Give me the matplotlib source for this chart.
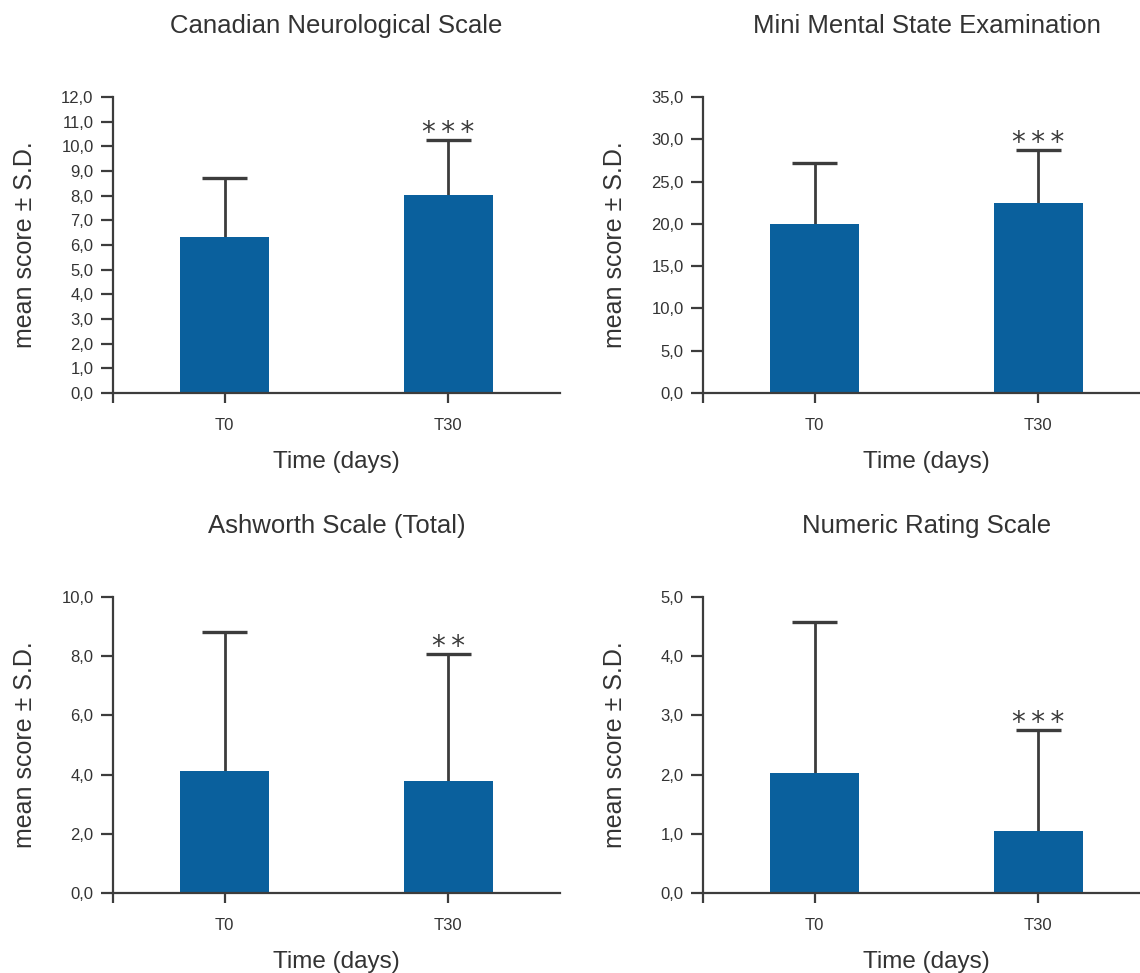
import matplotlib
matplotlib.use('Agg')
import matplotlib.pyplot as plt
from matplotlib.ticker import FuncFormatter, MultipleLocator

# data
groups = ['T0', 'T30']
titles = ['Canadian Neurological Scale', 'Mini Mental State Examination',
          'Ashworth Scale (Total)', 'Numeric Rating Scale']
cns_mean = [6.33, 8.01]
cns_sd = [2.37, 2.24]
mmse_mean = [19.98, 22.5]
mmse_sd = [7.18, 6.23]
ash_mean = [4.11, 3.80]
ash_sd = [4.71, 4.27]
nrs_mean = [2.03, 1.04]
nrs_sd = [2.54, 1.71]
stars = [['', '***'], ['', '***'], ['', '**'], ['', '***']]
ymax = [12, 35, 10, 5]
ystep = [1, 5, 2, 1]

means = [cns_mean, mmse_mean, ash_mean, nrs_mean]
sds = [cns_sd, mmse_sd, ash_sd, nrs_sd]

plt.rcParams['font.family'] = ['Liberation Sans', 'DejaVu Sans']
bar_col = '#0a609d'
ink = '#3c3c3c'
txt = '#333333'

fig = plt.figure(figsize=(11.4, 9.73), dpi=100)
W, H = 1140, 973
# left, top pixel of each panel
corners = [(113, 97), (703, 97), (113, 597), (703, 597)]
aw, ah = 447, 296

fmt = FuncFormatter(lambda v, p: f'{v:.1f}'.replace('.', ','))

for i in range(4):
    l, t = corners[i]
    ax = fig.add_axes([l / W, 1 - (t + ah) / H, aw / W, ah / H])
    x = list(range(len(groups)))
    ax.bar(x, means[i], width=0.4, color=bar_col, zorder=2)
    tops = [m + s for m, s in zip(means[i], sds[i])]
    # upper error bar only
    ax.vlines(x, means[i], tops, color=ink, lw=2, zorder=1)
    ax.hlines(tops, [j - 0.1 for j in x], [j + 0.1 for j in x],
              color=ink, lw=2.4, zorder=1)
    for j in x:
        if stars[i][j]:
            ax.annotate('\u2009'.join(stars[i][j]), (j, tops[j]),
                        xytext=(0, -5), textcoords='offset points',
                        ha='center', va='bottom', fontsize=20, color=ink,
                        family='DejaVu Sans')
    ax.set_xlim(-0.5, 1.5)
    ax.set_ylim(0, ymax[i])
    ax.yaxis.set_major_locator(MultipleLocator(ystep[i]))
    ax.yaxis.set_major_formatter(fmt)
    ax.set_xticks(x)
    ax.set_xticklabels(groups)
    ax.set_xticks([-0.5], minor=True)
    for s in ['top', 'right']:
        ax.spines[s].set_visible(False)
    for s in ['left', 'bottom']:
        ax.spines[s].set_color(ink)
        ax.spines[s].set_linewidth(1.6)
    ax.tick_params(axis='y', length=9, width=1.6, color=ink, labelcolor=txt,
                   labelsize=12, pad=5)
    ax.tick_params(axis='x', which='both', length=7, width=1.6, color=ink,
                   labelcolor=txt, labelsize=12, pad=11)
    for lab in ax.get_yticklabels():
        lab.set_family(['Liberation Sans Narrow', 'Liberation Sans'])
    ax.set_title(titles[i], fontsize=18.5, color=txt, pad=46)
    ax.set_xlabel('Time (days)', fontsize=17.5, color=txt)
    ax.xaxis.set_label_coords(0.5, -0.233)
    ax.xaxis.label.set_verticalalignment('center')
    ax.set_ylabel('mean score ± S.D.', fontsize=18, color=txt)
    ax.yaxis.set_label_coords(-0.197, 0.5)
    ax.yaxis.label.set_verticalalignment('center')

fig.savefig('out.png', dpi=100)
